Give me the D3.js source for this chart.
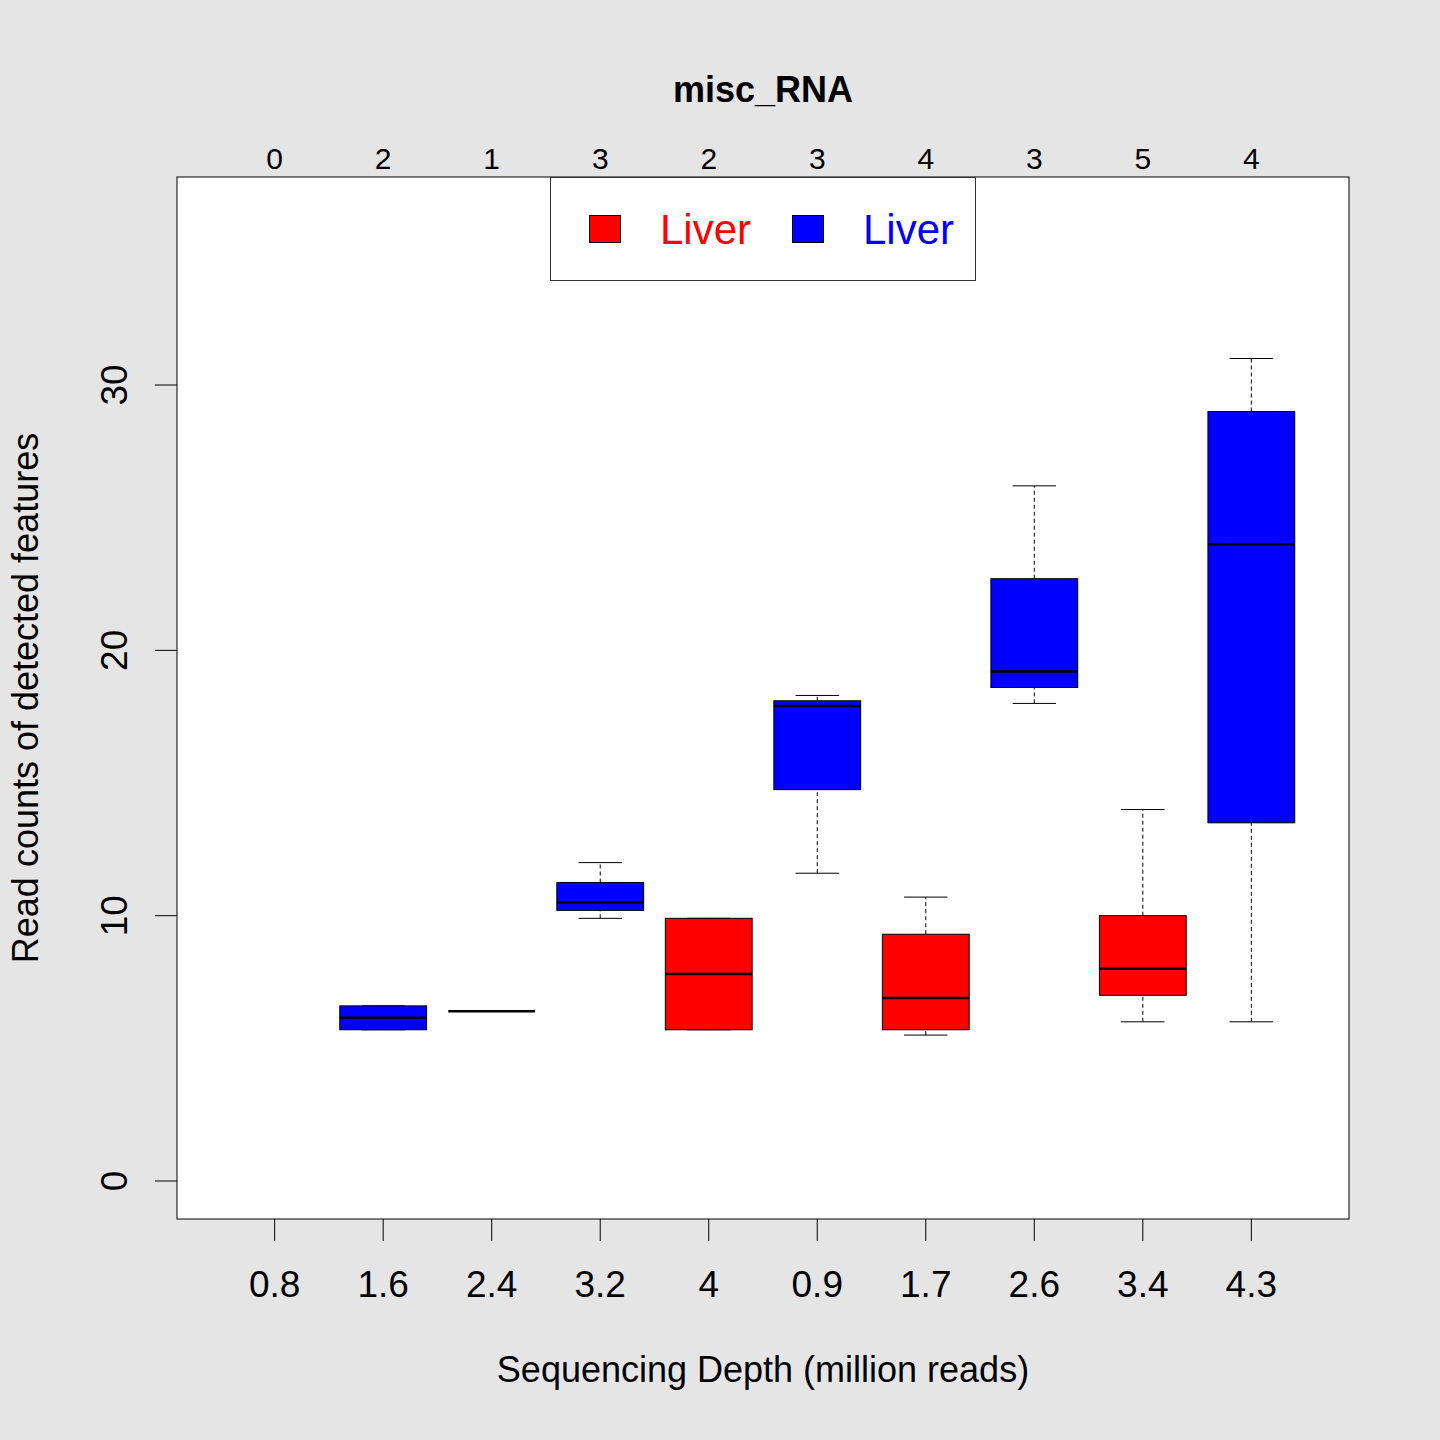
<!DOCTYPE html>
<html>
<head>
<meta charset="utf-8">
<script src="https://cdn.jsdelivr.net/npm/d3@7"></script>
<style>
  html, body { margin: 0; padding: 0; background: #e5e5e5; }
  svg { display: block; font-family: "Liberation Sans", Arial, sans-serif; }
</style>
</head>
<body>
<div id="chart"></div>
<script>
// sequencing depth per group (million reads), shown under the boxes
var depthLabels = ['0.8', '1.6', '2.4', '3.2', '4', '0.9', '1.7', '2.6', '3.4', '4.3'];
// fill colour for each box
var boxColors = ['red', 'blue', 'red', 'blue', 'red', 'blue', 'red', 'blue', 'red', 'blue'];
// read counts of detected features in each group
var groupValues = [
  [],
  [5.7, 6.6],
  [6.4],
  [9.9, 10.5, 12.0],
  [5.7, 9.9],
  [11.6, 17.9, 18.3],
  [5.5, 5.9, 7.9, 10.7],
  [18.0, 19.2, 26.2],
  [6, 7, 8, 10, 14],
  [6, 21, 27, 31]
];
var yTicks = [0, 10, 20, 30];
var legendLabels = ['Liver', 'Liver'];
var legendColors = ['red', 'blue'];

var W = 1440, H = 1440;
var pLeft = 177, pRight = 1349, pTop = 177, pBottom = 1219;

var svg = d3.select('#chart').append('svg')
  .attr('width', W).attr('height', H);

svg.append('rect').attr('width', W).attr('height', H).attr('fill', '#e5e5e5');
svg.append('rect')
  .attr('x', pLeft).attr('y', pTop)
  .attr('width', pRight - pLeft).attr('height', pBottom - pTop)
  .attr('fill', '#fff');

var x = d3.scaleLinear().domain([0.1, 10.9]).range([pLeft, pRight]);
var y = d3.scaleLinear().domain([-1.432, 37.84]).range([pBottom, pTop]);

// Tukey five-number summary, as in R's fivenum()
function fivenum(vals) {
  var s = vals.slice().sort(d3.ascending);
  var n = s.length;
  var n4 = Math.floor((n + 3) / 2) / 2;
  var d = [1, n4, (n + 1) / 2, n + 1 - n4, n];
  return d.map(function(k) {
    return 0.5 * (s[Math.floor(k) - 1] + s[Math.ceil(k) - 1]);
  });
}

var boxW = x(0.8) - x(0);
var capW = x(0.4) - x(0);

var groups = groupValues.map(function(v, i) {
  return { i: i, pos: i + 1, n: v.length, stats: v.length ? fivenum(v) : null, color: boxColors[i] };
});

var g = svg.append('g');
groups.filter(function(d) { return d.stats; }).forEach(function(d) {
  var cx = x(d.pos), st = d.stats;
  var bg = g.append('g');
  // whiskers
  bg.append('line')
    .attr('x1', cx).attr('x2', cx)
    .attr('y1', y(st[0])).attr('y2', y(st[1]))
    .attr('stroke', '#000').attr('stroke-width', 1).attr('stroke-dasharray', '4,3');
  bg.append('line')
    .attr('x1', cx).attr('x2', cx)
    .attr('y1', y(st[3])).attr('y2', y(st[4]))
    .attr('stroke', '#000').attr('stroke-width', 1).attr('stroke-dasharray', '4,3');
  // caps
  [st[0], st[4]].forEach(function(v) {
    bg.append('line')
      .attr('x1', cx - capW / 2).attr('x2', cx + capW / 2)
      .attr('y1', y(v)).attr('y2', y(v))
      .attr('stroke', '#000').attr('stroke-width', 1);
  });
  // box
  bg.append('rect')
    .attr('x', cx - boxW / 2).attr('width', boxW)
    .attr('y', y(st[3])).attr('height', y(st[1]) - y(st[3]))
    .attr('fill', d.color).attr('stroke', '#000').attr('stroke-width', 1);
  // median
  bg.append('line')
    .attr('x1', cx - boxW / 2).attr('x2', cx + boxW / 2)
    .attr('y1', y(st[2])).attr('y2', y(st[2]))
    .attr('stroke', '#000').attr('stroke-width', 2.5);
});

// plot frame
svg.append('rect')
  .attr('x', pLeft).attr('y', pTop)
  .attr('width', pRight - pLeft).attr('height', pBottom - pTop)
  .attr('fill', 'none').attr('stroke', '#000').attr('stroke-width', 1);

// left axis
var ya = svg.append('g');
yTicks.forEach(function(t) {
  ya.append('line').attr('x1', pLeft - 22).attr('x2', pLeft)
    .attr('y1', y(t)).attr('y2', y(t)).attr('stroke', '#000');
  ya.append('text')
    .attr('transform', 'translate(127,' + y(t) + ') rotate(-90)')
    .attr('text-anchor', 'middle').attr('font-size', 37).text(t);
});

// bottom axis
var xa = svg.append('g');
groups.forEach(function(d) {
  xa.append('line').attr('x1', x(d.pos)).attr('x2', x(d.pos))
    .attr('y1', pBottom).attr('y2', pBottom + 22).attr('stroke', '#000');
  xa.append('text')
    .attr('x', x(d.pos)).attr('y', 1297)
    .attr('text-anchor', 'middle').attr('font-size', 37).text(depthLabels[d.i]);
  // sample counts along the top
  xa.append('text')
    .attr('x', x(d.pos)).attr('y', 169)
    .attr('text-anchor', 'middle').attr('font-size', 30).text(d.n);
});

// legend
var lg = svg.append('g');
lg.append('rect')
  .attr('x', 550.5).attr('y', 177.5).attr('width', 425).attr('height', 103)
  .attr('fill', '#fff').attr('stroke', '#333').attr('stroke-width', 1);
[[589, 660], [792, 863]].forEach(function(p, k) {
  lg.append('rect')
    .attr('x', p[0] + 0.5).attr('y', 215.5).attr('width', 31).attr('height', 27)
    .attr('fill', legendColors[k]).attr('stroke', '#000').attr('stroke-width', 1);
  lg.append('text')
    .attr('x', p[1]).attr('y', 244)
    .attr('font-size', 42).attr('fill', legendColors[k]).text(legendLabels[k]);
});

// titles
svg.append('text')
  .attr('x', (pLeft + pRight) / 2).attr('y', 102)
  .attr('text-anchor', 'middle').attr('font-size', 36).attr('font-weight', 'bold')
  .text('misc_RNA');
svg.append('text')
  .attr('x', (pLeft + pRight) / 2).attr('y', 1382)
  .attr('text-anchor', 'middle').attr('font-size', 36)
  .text('Sequencing Depth (million reads)');
svg.append('text')
  .attr('transform', 'translate(38,' + (pTop + pBottom) / 2 + ') rotate(-90)')
  .attr('text-anchor', 'middle').attr('font-size', 36)
  .text('Read counts of detected features');
</script>
</body>
</html>
